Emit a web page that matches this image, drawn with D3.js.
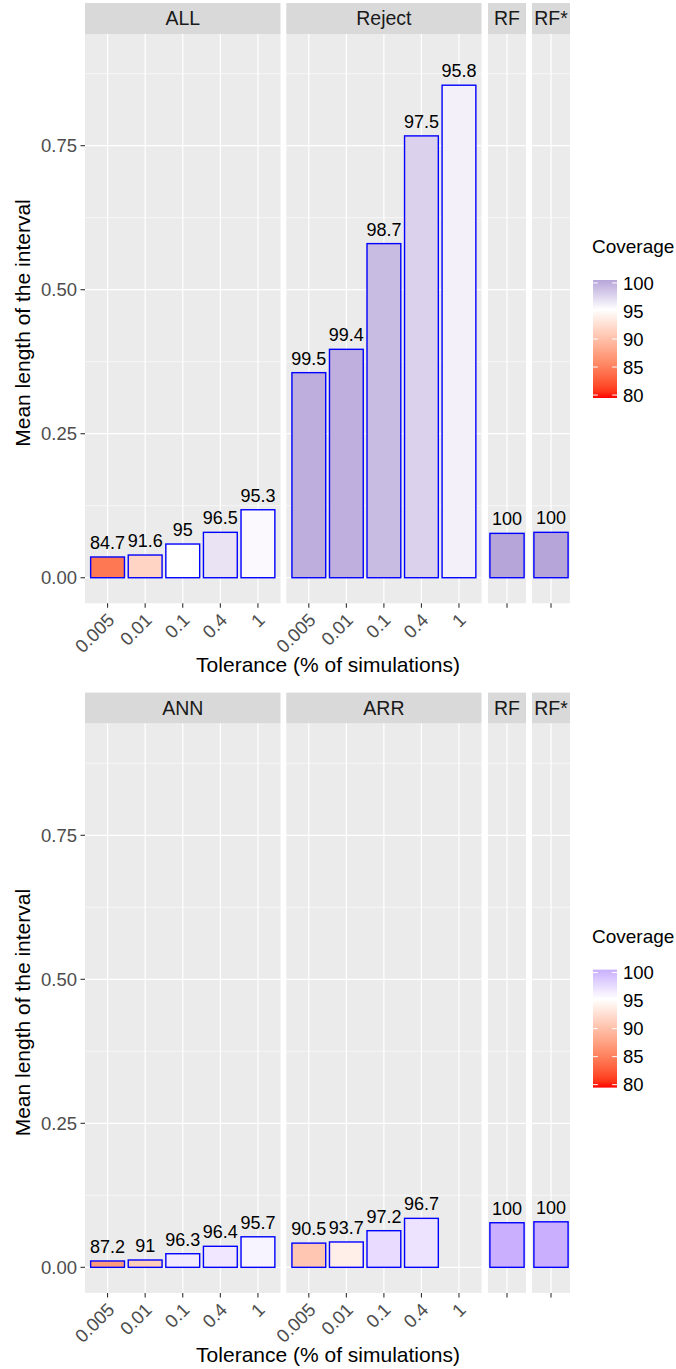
<!DOCTYPE html>
<html><head><meta charset="utf-8">
<script src="https://cdn.jsdelivr.net/npm/d3@7"></script>
<style>body{margin:0;background:#fff} text{font-family:"Liberation Sans",Arial,sans-serif}</style>
</head><body><svg id="chart" width="676" height="1369"></svg>
<script>
// ---- data ----
const tolerances = ["0.005","0.01","0.1","0.4","1"];
const topPanels = ["ALL","Reject","RF","RF*"];
const bottomPanels = ["ANN","ARR","RF","RF*"];

const allLength    = [0.036, 0.0394, 0.0585, 0.0788, 0.118];
const allCoverage  = [84.7, 91.6, 95, 96.5, 95.3];
const rejectLength   = [0.356, 0.3965, 0.580, 0.767, 0.855];
const rejectCoverage = [99.5, 99.4, 98.7, 97.5, 95.8];
const rfTopLength = [0.077];      const rfTopCoverage = [100];
const rfStarTopLength = [0.0788]; const rfStarTopCoverage = [100];

const annLength   = [0.011, 0.0127, 0.0236, 0.0365, 0.053];
const annCoverage = [87.2, 91, 96.3, 96.4, 95.7];
const arrLength   = [0.042, 0.044, 0.0636, 0.085, null];
const arrCoverage = [90.5, 93.7, 97.2, 96.7, null];
const rfBotLength = [0.0774];     const rfBotCoverage = [100];
const rfStarBotLength = [0.079];  const rfStarBotCoverage = [100];

const yTicks = [0, 0.25, 0.5, 0.75];
const yMinor = [0.125, 0.375, 0.625, 0.875];
const legendTicks = [80, 85, 90, 95, 100];
const yTitle = "Mean length of the interval";
const xTitle = "Tolerance (% of simulations)";
const legendTitle = "Coverage";

const svg = d3.select("#chart");
const defs = svg.append("defs");

const panelX = [[85,280.5],[286.3,481.5],[488,526],[532,570]];

function drawChart(oy, names, lens, covs, high, gid){
  const color = d3.scaleLinear().domain([80,95,100]).range(["#ff0000","#ffffff",high])
    .interpolate(d3.interpolateLab).clamp(true);
  const y = d3.scaleLinear().domain([-0.0444, 0.9439]).range([oy+603.3, oy+34]);
  const g = svg.append("g");
  names.forEach((name, i) => {
    const [x0, x1] = panelX[i];
    const cats = i < 2 ? tolerances : [""];
    const x = d3.scaleBand().domain(cats).range([x0, x1])
      .paddingInner(0.1).paddingOuter(i < 2 ? 0.15 : 0.05);
    // strip
    g.append("rect").attr("x", x0).attr("y", oy+3).attr("width", x1-x0).attr("height", 31).attr("fill", "#d9d9d9");
    g.append("text").attr("x", (x0+x1)/2).attr("y", oy+25).attr("text-anchor","middle")
      .attr("font-size", 19.5).attr("fill","#1a1a1a").text(name);
    // panel
    g.append("rect").attr("x", x0).attr("y", y.range()[1]).attr("width", x1-x0)
      .attr("height", y.range()[0]-y.range()[1]).attr("fill", "#ebebeb");
    yMinor.forEach(t => g.append("line").attr("x1",x0).attr("x2",x1).attr("y1",y(t)).attr("y2",y(t))
      .attr("stroke","#fff").attr("stroke-width",0.6));
    yTicks.forEach(t => g.append("line").attr("x1",x0).attr("x2",x1).attr("y1",y(t)).attr("y2",y(t))
      .attr("stroke","#fff").attr("stroke-width",1.2));
    cats.forEach(c => {
      const cx = x(c) + x.bandwidth()/2;
      g.append("line").attr("x1",cx).attr("x2",cx).attr("y1",y.range()[1]).attr("y2",y.range()[0])
        .attr("stroke","#fff").attr("stroke-width",1.2);
      g.append("line").attr("x1",cx).attr("x2",cx).attr("y1",y.range()[0]).attr("y2",y.range()[0]+4.5)
        .attr("stroke","#333").attr("stroke-width",1.1);
      if (c !== "") {
        g.append("text").attr("transform", `translate(${cx+8},${y.range()[0]+18}) rotate(-45)`)
          .attr("text-anchor","end").attr("font-size",18.5).attr("fill","#4d4d4d").text(c);
      }
    });
    // bars
    const L = lens[i], C = covs[i];
    cats.forEach((c, j) => {
      if (L[j] == null) return;
      g.append("rect").attr("x", x(c)).attr("y", y(L[j])).attr("width", x.bandwidth())
        .attr("height", y(0)-y(L[j])).attr("fill", color(C[j]))
        .attr("stroke","#0000ff").attr("stroke-width",1.4);
      g.append("text").attr("x", x(c)+x.bandwidth()/2).attr("y", y(L[j])-8)
        .attr("text-anchor","middle").attr("font-size",18).attr("fill","#000").text(C[j]);
    });
  });
  // y axis
  yTicks.forEach(t => {
    g.append("line").attr("x1",80.5).attr("x2",85).attr("y1",y(t)).attr("y2",y(t))
      .attr("stroke","#333").attr("stroke-width",1.1);
    g.append("text").attr("x",77).attr("y",y(t)).attr("dy","0.36em").attr("text-anchor","end")
      .attr("font-size",18.5).attr("fill","#4d4d4d").text(d3.format(".2f")(t));
  });
  g.append("text").attr("transform",`translate(29.5,${oy+323}) rotate(-90)`).attr("text-anchor","middle")
    .attr("font-size",21).attr("fill","#000").text(yTitle);
  g.append("text").attr("x",328).attr("y",oy+672).attr("text-anchor","middle")
    .attr("font-size",21).attr("fill","#000").text(xTitle);
  // legend
  const grad = defs.append("linearGradient").attr("id",gid).attr("x1",0).attr("x2",0).attr("y1",1).attr("y2",0);
  d3.range(0,21).forEach(k => {
    const v = 80 + k;
    grad.append("stop").attr("offset", (k/20)).attr("stop-color", color(v));
  });
  const lx = 593, ly0 = oy+280, lh = 118, lw = 24;
  const ls = d3.scaleLinear().domain([80,100]).range([ly0+lh-lh/40, ly0+lh/40]);
  g.append("text").attr("x",592).attr("y",oy+253).attr("font-size",19).attr("fill","#000").text(legendTitle);
  g.append("rect").attr("x",lx).attr("y",ly0).attr("width",lw).attr("height",lh).attr("fill",`url(#${gid})`);
  legendTicks.forEach(t => {
    g.append("line").attr("x1",lx).attr("x2",lx+4.8).attr("y1",ls(t)).attr("y2",ls(t)).attr("stroke","#fff").attr("stroke-width",1);
    g.append("line").attr("x1",lx+lw-4.8).attr("x2",lx+lw).attr("y1",ls(t)).attr("y2",ls(t)).attr("stroke","#fff").attr("stroke-width",1);
    g.append("text").attr("x",623).attr("y",ls(t)).attr("dy","0.36em").attr("font-size",18.5).attr("fill","#000").text(t);
  });
}

drawChart(0, topPanels,
  [allLength, rejectLength, rfTopLength, rfStarTopLength],
  [allCoverage, rejectCoverage, rfTopCoverage, rfStarTopCoverage], "#b6a5d9", "gTop");
drawChart(689.6, bottomPanels,
  [annLength, arrLength, rfBotLength, rfStarBotLength],
  [annCoverage, arrCoverage, rfBotCoverage, rfStarBotCoverage], "#c9affd", "gBot");
</script></body></html>
